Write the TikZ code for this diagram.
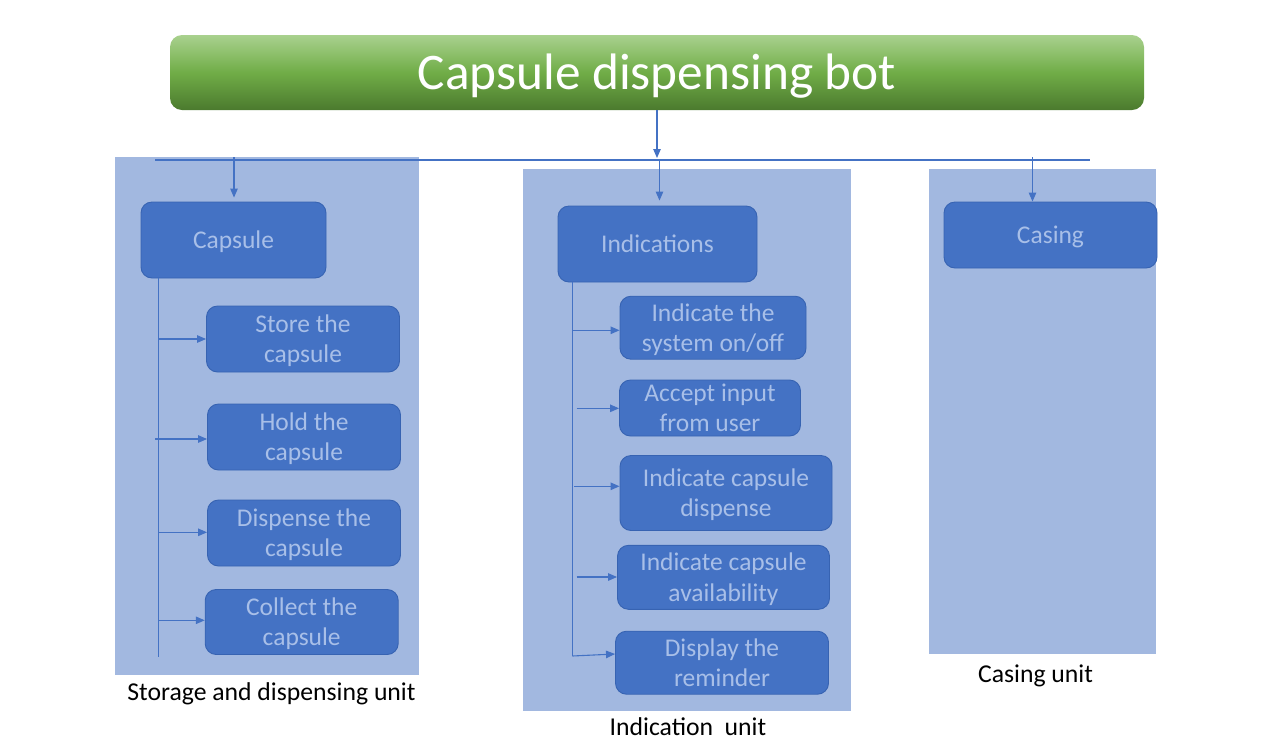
\documentclass[tikz,border=0pt]{standalone}
\usepackage{fontspec}
\setmainfont{Carlito}
\usetikzlibrary{arrows.meta}
\definecolor{panelblue}{HTML}{A2B8E0}
\definecolor{nodeblue}{HTML}{4472C4}
\definecolor{nodeedge}{HTML}{3763B2}
\definecolor{nodetext}{HTML}{A8BFE8}
\definecolor{linkblue}{HTML}{4472C4}
\definecolor{gtop}{HTML}{A9D18E}
\definecolor{gmid}{HTML}{70AD47}
\definecolor{gbot}{HTML}{4B7A2E}
\newcommand\onel[1]{\raisebox{-8.2pt}[0pt][0pt]{#1}}
\newcommand\twol[2]{\raisebox{-23.8pt}[0pt][0pt]{\begin{tabular}[b]{@{}c@{}}#1\\#2\end{tabular}}}
\tikzset{
  panel/.style={fill=panelblue, draw=none},
  box/.style={draw=nodeedge, line width=0.9pt, fill=nodeblue, rounded corners=11pt,
    text=nodetext, align=center, inner sep=0pt,
    font=\fontsize{25.5}{30.5}\selectfont},
  arr/.style={draw=linkblue, line width=1.1pt, -{Triangle[length=9pt,width=7.5pt]}},
  lnk/.style={draw=linkblue, line width=1.1pt},
  unitlabel/.style={anchor=base, text=black, font=\fontsize{25.7}{30}\selectfont},
}
\begin{document}
\begin{tikzpicture}[x=1pt,y=-1pt]
\useasboundingbox (0,0) rectangle (1286,740);
% panels
\path[panel] (115,157) rectangle (419,675);
\path[panel] (523,169) rectangle (851,711);
\path[panel] (929,169) rectangle (1156,654);
% title
\node[rounded corners=12pt, top color=gtop, bottom color=gbot, middle color=gmid,
  minimum width=974pt, minimum height=75pt, inner sep=0pt, text=white,
  font=\fontsize{51.3}{60}\selectfont] (title) at (657,72.5) {\raisebox{-16.8pt}[0pt][0pt]{Capsule dispensing bot}};
% group heads
\node[box, minimum width=185pt, minimum height=76pt] (capsule) at (233.5,240) {\onel{Capsule}};
\node[box, minimum width=199pt, minimum height=76pt] (indic) at (657.5,244) {\onel{Indications}};
\node[box, minimum width=213pt, minimum height=66pt] (casing) at (1050.5,235) {\onel{Casing}};
% left sub-nodes
\node[box, minimum width=193pt, minimum height=66pt] (store) at (303,339) {\twol{Store the}{capsule}};
\node[box, minimum width=193pt, minimum height=66pt] (hold) at (304,437) {\twol{Hold the}{capsule}};
\node[box, minimum width=193pt, minimum height=66pt] (dispense) at (304,533) {\twol{Dispense the}{capsule}};
\node[box, minimum width=193pt, minimum height=65pt] (collect) at (301.7,622) {\twol{Collect the}{capsule}};
% middle sub-nodes
\node[box, minimum width=186pt, minimum height=63pt] (onoff) at (713,327.7) {\twol{Indicate the}{system on/off}};
\node[box, minimum width=181pt, minimum height=56pt] (accept) at (710,408) {\twol{Accept input}{from user}};
\node[box, minimum width=212pt, minimum height=75pt] (idisp) at (726,493) {\twol{Indicate capsule}{dispense}};
\node[box, minimum width=212pt, minimum height=64pt] (iavail) at (723.5,577.3) {\twol{Indicate capsule}{availability}};
\node[box, minimum width=213pt, minimum height=63pt] (remind) at (722,662.7) {\twol{Display the}{reminder}};
% labels
\node[unitlabel] (lab1) at (271.5,700) {Storage and dispensing unit};
\node[unitlabel] (lab2) at (688,735) {Indication~ unit};
\node[unitlabel] (lab3) at (1035.5,682) {Casing unit};
% top connectors
\coordinate (bus) at (657,158);
\coordinate (busl) at (155,160);
\coordinate (busr) at (1090,160);
\draw[arr] (title.south) -- (bus);
\draw[lnk] (busl) -- (busr);
\coordinate (dl) at (234,157);
\coordinate (dm) at (659.5,160);
\coordinate (dr) at (1032.5,157);
\draw[arr] (dl) -- ([yshift=4pt]dl |- capsule.north);
\draw[arr] (dm) -- ([yshift=5pt]dm |- indic.north);
\draw[arr] (dr) -- (dr |- casing.north);
% left trunk
\coordinate (ltop) at (158.3,278);
\coordinate (lbot) at (158.3,657);
\draw[lnk] (ltop) -- (lbot);
\draw[arr] (ltop |- store.west) -- (store.west);
\draw[arr] ([xshift=-3pt]ltop |- 0,439) -- (hold.west |- 0,439);
\draw[arr] (ltop |- 0,532.3) -- (dispense.west |- 0,532.3);
\draw[arr] (ltop |- 0,620.3) -- (collect.west |- 0,620.3);
% middle trunk
\coordinate (mtop) at (572.3,282);
\coordinate (mbot) at (572.3,656);
\draw[lnk] (mtop) -- (mbot);
\draw[arr] (mtop |- 0,330.3) -- (onoff.west |- 0,330.3);
\draw[arr] ([xshift=4.4pt]mtop |- 0,408.3) -- (accept.west |- 0,408.3);
\draw[arr] ([xshift=2pt]mtop |- 0,486.3) -- (idisp.west |- 0,486.3);
\draw[arr] ([xshift=4.4pt]mtop |- 0,577) -- (iavail.west |- 0,577);
\draw[arr] (mbot) -- (remind.west |- 0,654);
\end{tikzpicture}
\end{document}
